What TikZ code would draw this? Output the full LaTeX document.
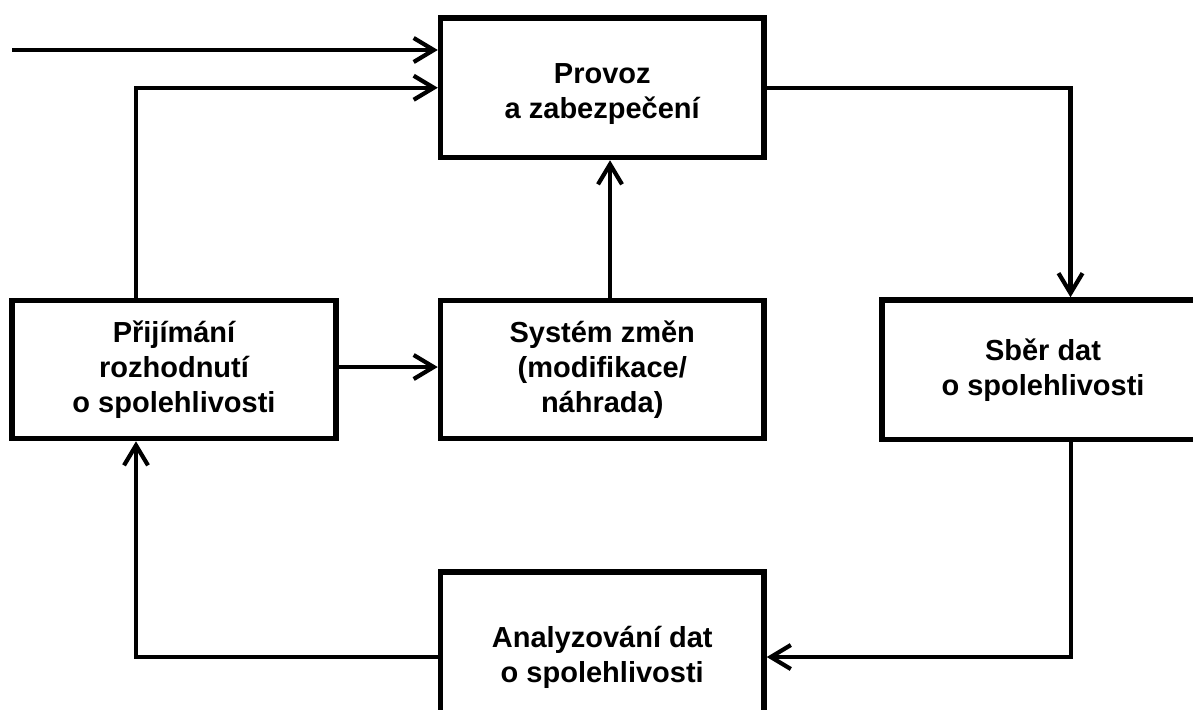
\documentclass[tikz,border=0pt]{standalone}
\usepackage{fontspec}
\setmainfont{Liberation Sans}
\usetikzlibrary{arrows.meta}
\tikzset{
  box/.style={draw, line width=5.5pt, rectangle, align=center, inner sep=0pt,
    font=\fontsize{29}{35}\selectfont\bfseries},
  conn/.style={line width=4.2pt},
  arr/.style={conn, -{Straight Barb[length=20pt,width=24pt]}}
}
\begin{document}
\begin{tikzpicture}[x=1pt,y=-1pt]
\useasboundingbox (0,0) rectangle (1193,709);
\clip (0,0) rectangle (1193,709);
\node[box, minimum width=323.5pt, minimum height=139.5pt] (prov) at (602.25,87.75) {\mbox{}\\[-2pt]Provoz\\a zabezpečení};
\node[box, minimum width=324pt, minimum height=138pt] (prij) at (174,369.5) {Přijímání\\rozhodnutí\\o spolehlivosti};
\node[box, minimum width=323.5pt, minimum height=138pt] (sys) at (602.25,369.5) {Systém změn\\(modifikace/\\náhrada)};
\node[box, minimum width=322pt, minimum height=139.5pt] (sber) at (1043,369.75) {Sběr dat\\o spolehlivosti};
\node[box, minimum width=323.5pt, minimum height=170pt] (anal) at (602.25,657) {Analyzování dat\\o spolehlivosti};
\coordinate (in) at (12,50);
\coordinate (k1) at (136,87.75);
\coordinate (k2) at (1070.5,87.75);
\coordinate (k3) at (610,367);
\coordinate (k4) at (1071,657);
\draw[arr] (in) -- (in -| prov.west);
\draw[arr] (k1 |- prij.north) -- (k1) -- (prov.west);
\draw[arr] (prov.east) -- (k2) -- (k2 |- sber.north);
\draw[arr] (k3 |- sys.north) -- (k3 |- prov.south);
\draw[arr] (prij.east |- k3) -- (sys.west |- k3);
\draw[arr] (k4 |- sber.south) -- (k4) -- (anal.east);
\draw[arr] (anal.west) -- (k1 |- anal.west) -- (k1 |- prij.south);
\end{tikzpicture}
\end{document}
